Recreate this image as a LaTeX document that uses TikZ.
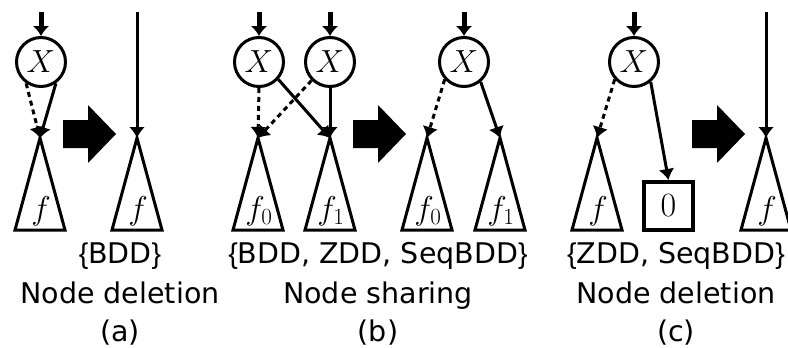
\RequirePackage{fix-cm}
\documentclass[tikz,border=0pt]{standalone}
\usepackage{fontspec}
\newfontfamily\capfont{DejaVu Sans}
\newfontfamily\bracefont{Liberation Sans}
\newcommand\lbr{{\bracefont\{}}
\newcommand\rbr{{\bracefont\}}}
\usetikzlibrary{arrows.meta}

\begin{document}
\begin{tikzpicture}[
  x=1pt, y=-1pt,
  vnode/.style={circle, draw, line width=3pt, minimum size=49pt, inner sep=0pt,
                font=\fontsize{32}{32}\selectfont},
  term/.style={draw, line width=4pt, minimum width=49pt, minimum height=48pt,
               inner sep=0pt, font=\fontsize{34}{34}\selectfont},
  tree/.style={draw, line width=3pt, line join=miter},
  edge/.style={line width=3pt, -{Latex[length=11pt,width=16pt]}},
  inedge/.style={line width=5pt, -{Latex[length=10pt,width=17pt]}},
  zero/.style={dash pattern=on 5pt off 4pt},
  captext/.style={font=\capfont\fontsize{28.5}{30}\selectfont, anchor=base},
  tlabel/.style={font=\fontsize{33}{33}\selectfont, inner sep=0pt},
  pics/subtree/.style={code={
    \draw[tree] (0,0) -- (-25,92) -- (25,92) -- cycle;
    \node[tlabel] at (1,73) {#1};
  }},
  pics/bigarrow/.style={code={
    \fill (0,-14) -- (25,-14) -- (25,-29) -- (53,0) -- (25,29) -- (25,14) -- (0,14) -- cycle;
  }},
]
\useasboundingbox (0,0) rectangle (788,348);

% ---------- (a) node deletion for BDD ----------
\node[vnode] (xa) at (41,62) {$X$};
\coordinate (ina) at (41,12);
\coordinate (ta) at (40,138);
\draw[inedge] (ina) -- (xa);
\pic at (ta) {subtree=$f$};
\draw[edge,zero] (xa.235) -- (ta);
\draw[edge] (xa.305) -- (ta);

\pic at (63,134) {bigarrow};

\coordinate (inar) at (137,12);
\coordinate (tar) at (137,138);
\draw[edge] (inar) -- (tar);
\pic at (tar) {subtree=$f$};

\node[captext] (ka) at (120,263) {\lbr BDD\rbr};
\node[captext] (na) at (120,303) {Node deletion};
\node[captext] (la) at (120,341) {(a)};

% ---------- (b) node sharing ----------
\node[vnode] (xb1) at (259,62) {$X$};
\node[vnode] (xb2) at (330,62) {$X$};
\coordinate (inb1) at (259,12);
\coordinate (inb2) at (330,12);
\coordinate (tb0) at (258,138);
\coordinate (tb1) at (330,138);
\draw[inedge] (inb1) -- (xb1);
\draw[inedge] (inb2) -- (xb2);
\pic at (tb0) {subtree=$f_0$};
\pic at (tb1) {subtree=$f_1$};
\draw[edge,zero] (xb1.south) -- (tb0);
\draw[edge] (xb1.-42) -- (tb1);
\draw[edge,zero] (xb2.225) -- (tb0);
\draw[edge] (xb2.south) -- (tb1);

\pic at (353,134) {bigarrow};

\node[vnode] (xb3) at (464,62) {$X$};
\coordinate (inb3) at (464,12);
\coordinate (tb2) at (427,138);
\coordinate (tb3) at (500,138);
\draw[inedge] (inb3) -- (xb3);
\pic at (tb2) {subtree=$f_0$};
\pic at (tb3) {subtree=$f_1$};
\draw[edge,zero] (xb3.222) -- (tb2);
\draw[edge] (xb3.-50) -- (tb3);

\node[captext] (kb) at (378,263) {\lbr BDD, ZDD, SeqBDD\rbr};
\node[captext] (nb) at (378,303) {Node sharing};
\node[captext] (lb) at (378,341) {(b)};

% ---------- (c) node deletion for ZDD ----------
\node[vnode] (xc) at (634,62) {$X$};
\coordinate (inc) at (634,12);
\coordinate (tc) at (597,138);
\node[term] (zc) at (668.5,206) {0};
\draw[inedge] (inc) -- (xc);
\pic at (tc) {subtree=$f$};
\draw[edge,zero] (xc.222) -- (tc);
\draw[edge] (xc.-50) -- (zc.north);

\pic at (692,134) {bigarrow};

\coordinate (incr) at (766,12);
\coordinate (tcr) at (766,138);
\draw[edge] (incr) -- (tcr);
\pic at (tcr) {subtree=$f$};

\node[captext] (kc) at (676,263) {\lbr ZDD, SeqBDD\rbr};
\node[captext] (nc) at (676,303) {Node deletion};
\node[captext] (lc) at (676,341) {(c)};
\end{tikzpicture}
\end{document}
